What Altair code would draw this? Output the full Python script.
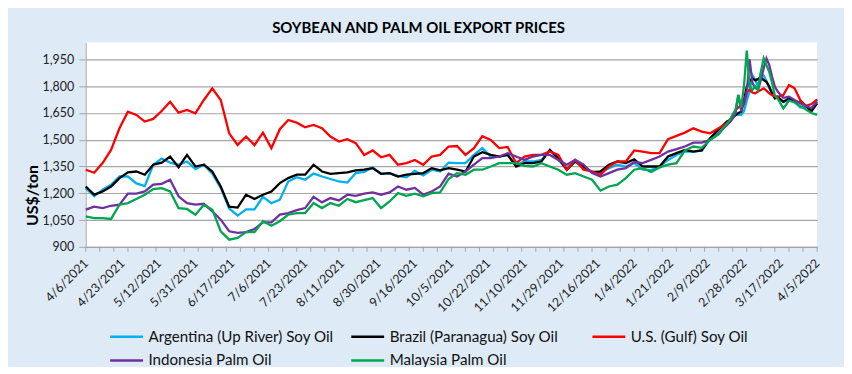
import altair as alt
import pandas as pd

# business-day index of each observation (0 = 4/6/2021, 260 = 4/5/2022)
X = [0, 3, 6, 9, 12, 15, 18, 21, 24, 27, 30, 33, 36, 39, 42, 45, 48, 51, 54, 57,
     60, 63, 66, 69, 72, 75, 78, 81, 84, 87, 90, 93, 96, 99, 102, 105, 108, 111, 114, 117,
     120, 123, 126, 129, 132, 135, 138, 141, 144, 147, 150, 153, 156, 159, 162, 165, 168, 171, 174, 177,
     180, 183, 186, 189, 192, 195, 198, 201, 204, 207, 210, 213, 216, 219, 222, 225, 228,
     229, 230, 231, 232, 233, 234, 235, 236, 237, 238, 239, 240, 241, 242, 243, 244, 245, 246,
     248, 250, 252, 254, 256, 258, 260]

argentina = [1229, 1183, 1220, 1248, 1294, 1294, 1255, 1240, 1360, 1395, 1372, 1360, 1378, 1335, 1360, 1310, 1230, 1115, 1075, 1110,
             1110, 1180, 1145, 1164, 1266, 1290, 1276, 1310, 1294, 1280, 1266, 1260, 1313, 1320, 1345, 1309, 1313, 1298, 1290, 1325,
             1300, 1332, 1322, 1372, 1369, 1369, 1415, 1453, 1406, 1406, 1415, 1360, 1378, 1378, 1387, 1443, 1387, 1341, 1378, 1341,
             1322, 1317, 1341, 1360, 1350, 1369, 1332, 1330, 1350, 1387, 1415, 1434, 1434, 1440, 1508, 1555, 1592,
             1600, 1620, 1639, 1639, 1640, 1660, 1720, 1769, 1862, 1834, 1800, 1872, 1860, 1830, 1788, 1760, 1740, 1732,
             1713, 1720, 1713, 1680, 1685, 1676, 1723]

brazil = [1238, 1192, 1210, 1238, 1285, 1317, 1322, 1304, 1360, 1372, 1406, 1346, 1415, 1350, 1360, 1322, 1238, 1125, 1120, 1192,
          1168, 1192, 1210, 1257, 1285, 1304, 1304, 1360, 1322, 1309, 1313, 1317, 1328, 1332, 1341, 1309, 1313, 1294, 1304, 1309,
          1313, 1341, 1328, 1341, 1332, 1322, 1406, 1430, 1415, 1406, 1415, 1350, 1369, 1369, 1378, 1443, 1397, 1332, 1378, 1350,
          1317, 1322, 1360, 1378, 1369, 1390, 1350, 1350, 1350, 1406, 1425, 1443, 1434, 1440, 1508, 1559, 1602,
          1610, 1625, 1639, 1650, 1657, 1723, 1797, 1830, 1844, 1834, 1840, 1849, 1835, 1825, 1797, 1760, 1732, 1741,
          1713, 1732, 1713, 1710, 1690, 1660, 1704]

us_gulf = [1332, 1315, 1369, 1443, 1564, 1657, 1639, 1602, 1617, 1661, 1713, 1652, 1667, 1648, 1723, 1788, 1723, 1536, 1471, 1518,
           1470, 1540, 1453, 1559, 1611, 1596, 1570, 1583, 1565, 1518, 1490, 1503, 1481, 1415, 1440, 1402, 1415, 1360, 1369, 1387,
           1360, 1406, 1415, 1462, 1465, 1415, 1453, 1520, 1499, 1453, 1460, 1369, 1406, 1415, 1415, 1434, 1415, 1332, 1387, 1332,
           1322, 1304, 1350, 1378, 1378, 1440, 1434, 1425, 1425, 1503, 1522, 1540, 1564, 1546, 1536, 1564, 1592,
           1610, 1640, 1667, 1680, 1690, 1704, 1770, 1779, 1765, 1760, 1770, 1779, 1788, 1775, 1760, 1750, 1745, 1741,
           1751, 1807, 1788, 1723, 1690, 1700, 1726]

indonesia = [1108, 1125, 1117, 1130, 1136, 1198, 1198, 1210, 1248, 1253, 1276, 1183, 1145, 1136, 1141, 1099, 1052, 987, 978, 982,
             1000, 1037, 1037, 1080, 1089, 1105, 1117, 1180, 1149, 1173, 1160, 1192, 1186, 1198, 1205, 1192, 1205, 1238, 1220, 1230,
             1192, 1210, 1238, 1310, 1294, 1322, 1360, 1397, 1397, 1406, 1425, 1406, 1387, 1406, 1415, 1415, 1387, 1360, 1387, 1360,
             1313, 1294, 1313, 1332, 1341, 1375, 1369, 1387, 1406, 1434, 1447, 1462, 1484, 1484, 1499, 1536, 1583,
             1600, 1620, 1648, 1751, 1667, 1700, 1760, 1950, 1820, 1790, 1779, 1834, 1900, 1956, 1918, 1853, 1797, 1770,
             1735, 1741, 1723, 1704, 1690, 1676, 1713]

malaysia = [1071, 1061, 1061, 1056, 1136, 1145, 1168, 1192, 1223, 1229, 1210, 1117, 1112, 1080, 1136, 1108, 987, 940, 950, 982,
            982, 1043, 1018, 1043, 1080, 1089, 1089, 1145, 1117, 1145, 1130, 1168, 1150, 1161, 1173, 1117, 1154, 1201, 1186, 1198,
            1183, 1201, 1205, 1280, 1313, 1304, 1332, 1332, 1350, 1369, 1369, 1369, 1354, 1350, 1369, 1350, 1332, 1304, 1313, 1294,
            1276, 1215, 1238, 1248, 1285, 1332, 1341, 1320, 1345, 1360, 1369, 1440, 1462, 1455, 1500, 1530, 1592,
            1610, 1640, 1667, 1751, 1680, 1800, 2000, 1800, 1780, 1800, 1779, 1880, 1956, 1918, 1880, 1820, 1745, 1730,
            1676, 1720, 1709, 1690, 1670, 1650, 1639]

series_names = ["Argentina (Up River) Soy Oil", "Brazil (Paranagua) Soy Oil", "U.S. (Gulf) Soy Oil",
                "Indonesia Palm Oil", "Malaysia Palm Oil"]
series_colors = ["#00B0F0", "#000000", "#FF0000", "#7030A0", "#00A650"]
series_values = [argentina, brazil, us_gulf, indonesia, malaysia]

date_labels = ["4/6/2021", "4/23/2021", "5/12/2021", "5/31/2021", "6/17/2021", "7/6/2021", "7/23/2021",
               "8/11/2021", "8/30/2021", "9/16/2021", "10/5/2021", "10/22/2021", "11/10/2021", "11/29/2021",
               "12/16/2021", "1/4/2022", "1/21/2022", "2/9/2022", "2/28/2022", "3/17/2022", "4/5/2022"]
label_step = 13
minor_ticks = list(range(0, 261, 5))
y_ticks = [900, 1050, 1200, 1350, 1500, 1650, 1800, 1950]

rows = []
for name, vals in zip(series_names, series_values):
    for xi, v in zip(X, vals):
        rows.append({"idx": xi, "price": v, "series": name})
df = pd.DataFrame(rows)

FONT = "Lato"
GRAY = "#A6A6A6"

x_scale = alt.Scale(domain=[0, 260], nice=False, zero=False)
y_scale = alt.Scale(domain=[900, 2045], nice=False, zero=False)

label_array = "[" + ",".join("'" + s + "'" for s in date_labels) + "]"

x_axis = alt.Axis(values=[i * label_step for i in range(len(date_labels))],
                  labelExpr=label_array + "[round(datum.value / 13)]",
                  labelAngle=-45, labelAlign="right", labelBaseline="middle",
                  labelPadding=14, ticks=False, grid=False, domainColor=GRAY,
                  labelFont=FONT, labelFontSize=12.5, labelColor="#222222",
                  labelOverlap=False, labelFlush=False, title=None)

y_axis = alt.Axis(values=y_ticks, format=",d", grid=True, gridColor=GRAY, gridWidth=1.2,
                  domainColor=GRAY, tickColor=GRAY, tickSize=7, labelPadding=5,
                  labelFont=FONT, labelFontSize=12.5, labelColor="#222222",
                  title="US$/ton", titleFont=FONT, titleFontSize=16, titleFontWeight="bold",
                  titleColor="black", titleAngle=-90, titleX=-53, titleY=153,
                  titleAlign="center", titleBaseline="middle")

# 15 px legend symbol box with a 33 px line drawn from its left edge
legend = alt.Legend(orient="none", legendX=23, legendY=286, columns=3, direction="horizontal",
                    symbolType="M-1,0L3.4,0", symbolSize=225, symbolStrokeWidth=2.5,
                    labelFont=FONT, labelFontSize=15.2, labelColor="#111111", labelOffset=22,
                    gridAlign="all", columnPadding=12, rowPadding=6, labelLimit=300)

color = alt.Color("series:N", scale=alt.Scale(domain=series_names, range=series_colors),
                  legend=legend, title=None)

layers = []
for name in series_names:
    layers.append(
        alt.Chart(df).transform_filter(alt.datum.series == name)
        .mark_line(strokeWidth=2.3)
        .encode(x=alt.X("idx:Q", scale=x_scale, axis=x_axis),
                y=alt.Y("price:Q", scale=y_scale, axis=y_axis),
                color=color)
    )

ticks = alt.Chart(pd.DataFrame({"idx": minor_ticks})).mark_rule(color=GRAY, strokeWidth=1).encode(
    x=alt.X("idx:Q", scale=x_scale, axis=x_axis),
    y=alt.value(205), y2=alt.value(210))

chart = alt.layer(ticks, *layers).properties(
    width=734, height=205,
    autosize=alt.AutoSizeParams(type="none"),
    padding={"left": 78, "top": 34, "right": 27, "bottom": 120},
    background="#DEEBF7",
    title=alt.TitleParams("SOYBEAN AND PALM OIL EXPORT PRICES", font=FONT, fontSize=15,
                          fontWeight="bold", color="black", anchor="middle", dx=-33, offset=7),
).configure_view(fill="white", strokeWidth=0)

chart.save("out.html", embed_options={"renderer": "svg", "actions": False})
